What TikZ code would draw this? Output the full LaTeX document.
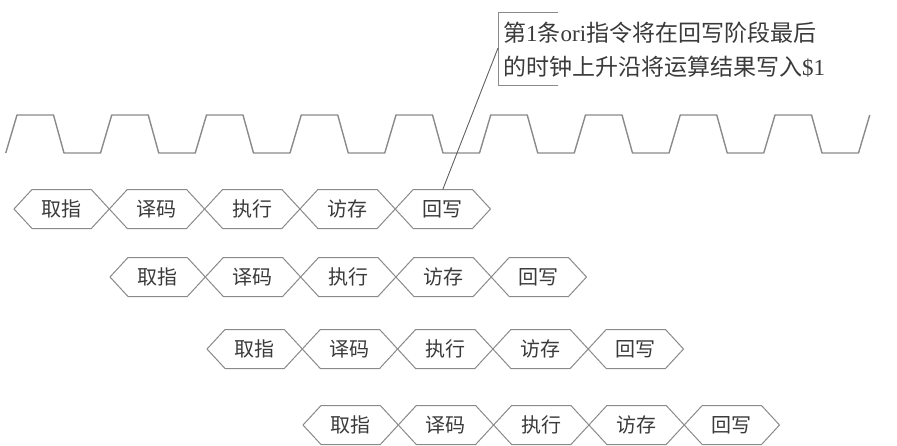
\documentclass[tikz,border=0pt]{standalone}
\usepackage{fontspec}
\setmainfont{Liberation Serif}
\newfontfamily\cjk{Noto Sans CJK SC}
\definecolor{linegray}{HTML}{8A8A8A}
\definecolor{txtgray}{HTML}{3A3A3A}
\begin{document}
\begin{tikzpicture}[x=1pt,y=-1pt,
  clk/.style={draw=linegray, line width=1.4pt, line join=round},
  hexline/.style={draw=linegray, line width=1pt, line join=miter},
  lab/.style={font=\cjk\fontsize{20}{20}\selectfont, text=txtgray, inner sep=0pt, minimum height=39pt},
  ann/.style={font=\fontsize{23}{34}\selectfont, text=txtgray, align=left, inner sep=0pt, anchor=west},
  brk/.style={draw=linegray, line width=1pt},
  leader/.style={draw=txtgray!80, line width=0.9pt}]
\useasboundingbox (0,0) rectangle (897,445);
% clock
\draw[clk] (5.75,153) \foreach \k in {0,...,8} { -- ({17+94.75*\k},115) -- ({53.5+94.75*\k},115) -- ({64+94.75*\k},153) -- ({100.5+94.75*\k},153) } -- (869.75,115);
% pipeline rows
\foreach \r/\x/\y in {1/14/209, 2/110/277, 3/207/349, 4/303/425} {
  \foreach \t [count=\i from 0] in {取指,译码,执行,访存,回写} {
    \pgfmathsetmacro\xa{\x+\i*95.3}
    \pgfmathsetmacro\xc{\xa+47.65}
    \draw[hexline] (\xa,\y) -- ++(18,-19.5) -- ++(59.3,0) -- ++(18,19.5) -- ++(-18,19.5) -- ++(-59.3,0) -- cycle;
    \node[lab] (h\r\i) at (\xc,\y) {\t};
  }
}
% annotation
\node[ann] (note) at (503,50) {{\cjk 第}1{\cjk 条}ori{\cjk 指令将在回写阶段最后}\\{\cjk 的时钟上升沿将运算结果写入}\$1};
\coordinate (bt) at (498,12);
\coordinate (bb) at (498,85);
\coordinate (lt) at (498,48);
\draw[brk] (558,12) -- (bt) -- (bb) -- (558,85);
\draw[leader] (lt) -- (h14.north);
\end{tikzpicture}
\end{document}
